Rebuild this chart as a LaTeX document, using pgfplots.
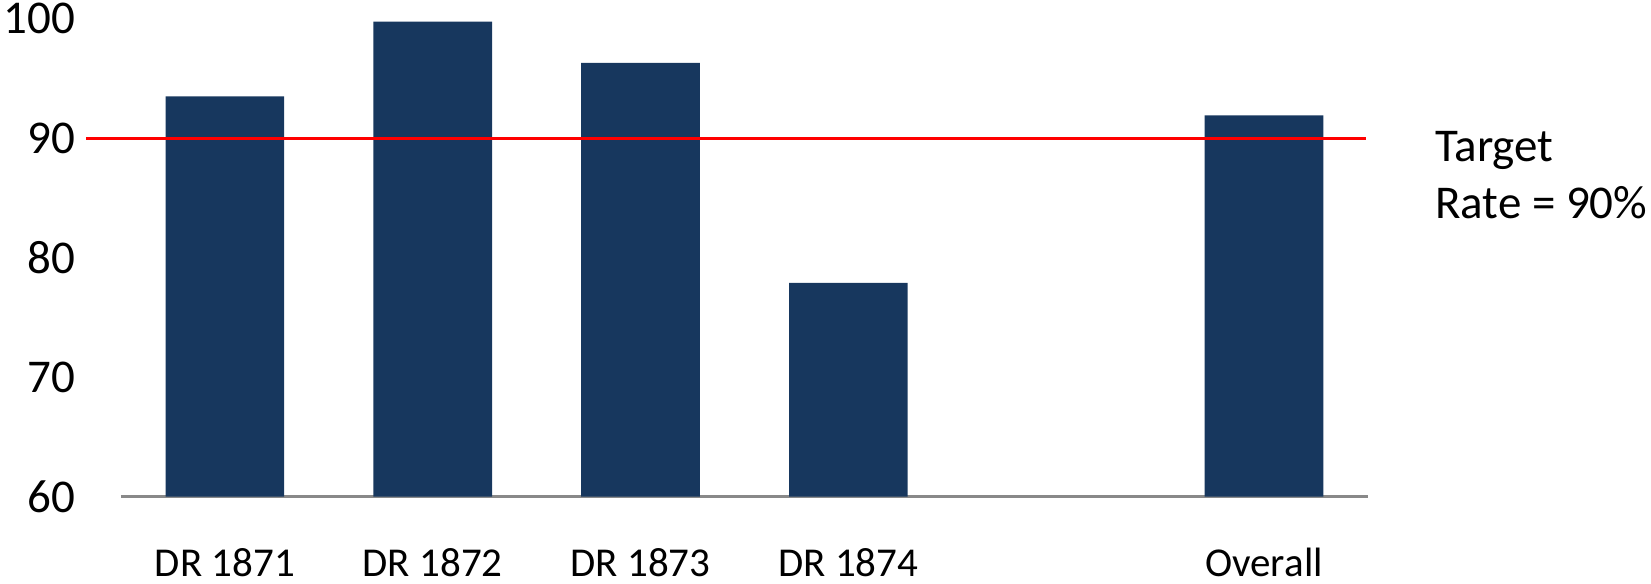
\documentclass[border=0pt]{standalone}
\usepackage{fontspec}
\setmainfont{Carlito}
\usepackage{pgfplots}
\pgfplotsset{compat=1.18}
\definecolor{barblue}{HTML}{17375E}
\definecolor{axisgrey}{HTML}{898989}
\definecolor{targetred}{HTML}{FF0000}

\begin{document}
\begin{tikzpicture}
\begin{axis}[
  scale only axis,
  width=623.5pt, height=239pt,
  xmin=-0.5, xmax=5.5, ymin=60, ymax=100,
  ybar, bar width=0.571,
  clip mode=individual,
  axis x line*=bottom, axis y line*=left,
  x axis line style={axisgrey, line width=1.35pt},
  y axis line style={draw=none},
  major tick length=0pt,
  xtick={0,1,2,3,5},
  xticklabels={DR 1871, DR 1872, DR 1873, DR 1874, Overall},
  ytick={60,70,80,90,100},
  yticklabels={60,70,80,90,100},
  xticklabel style={font=\fontsize{20.5}{24}\selectfont, anchor=base,
                    inner sep=0pt, yshift=-40pt},
  yticklabel style={font=\fontsize{23.5}{28}\selectfont, anchor=east,
                    inner sep=0pt, xshift=-22.8pt},
]

\addplot[fill=barblue, draw=none] coordinates {
  (0,93.5) (1,99.75) (2,96.3) (3,77.9) (5,91.9)
};

% target rate line and its label
\draw[targetred, line width=1.5pt] (axis cs:-0.668,90) -- (axis cs:5.49,90);
\node[anchor=base west, inner sep=0pt, font=\fontsize{23.5}{28}\selectfont]
  at (axis cs:5.822,88.03) {Target};
\node[anchor=base west, inner sep=0pt, font=\fontsize{23.5}{28}\selectfont]
  at (axis cs:5.822,83.32) {Rate = 90\%};

\coordinate (bbl) at (rel axis cs:-0.0970,-0.1826);
\coordinate (btr) at (rel axis cs:1.2270,1.0391);
\end{axis}
\pgfresetboundingbox
\path[use as bounding box] (bbl) rectangle (btr);
\end{tikzpicture}
\end{document}
